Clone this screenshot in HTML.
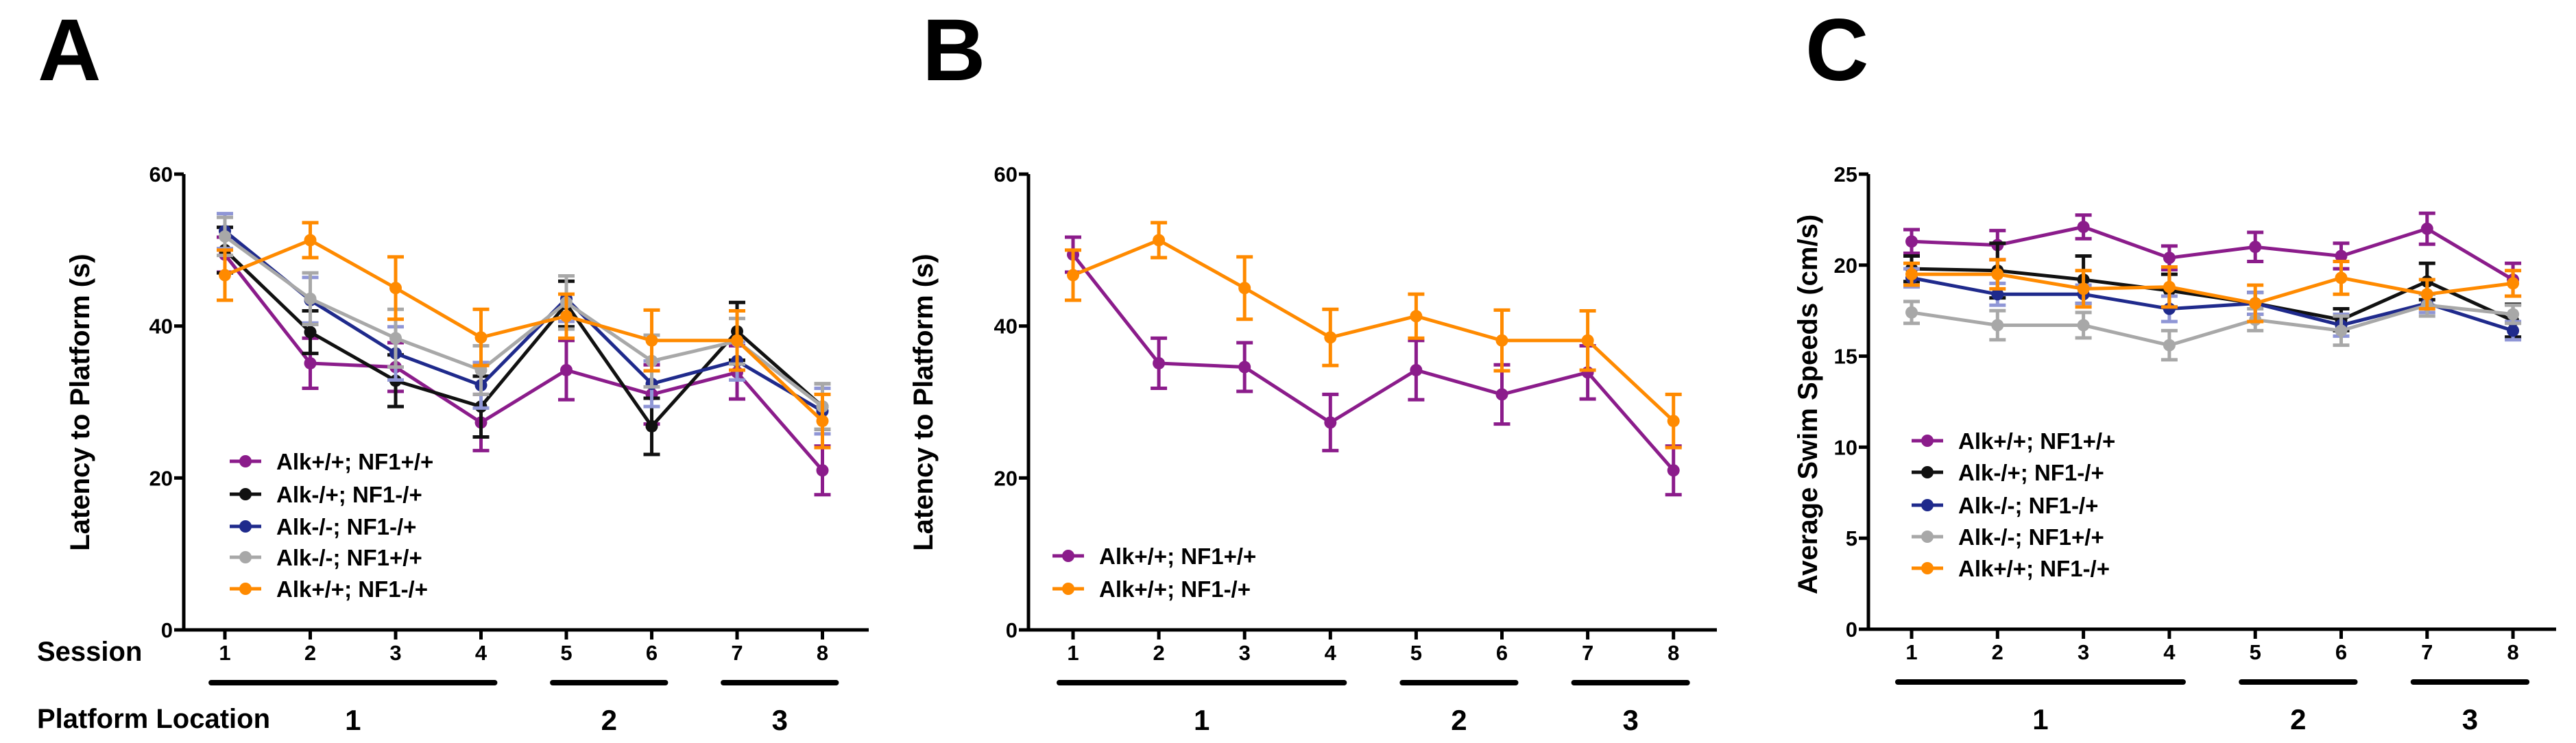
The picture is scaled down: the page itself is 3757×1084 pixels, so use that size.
<!DOCTYPE html>
<html><head><meta charset="utf-8"><style>
html,body{margin:0;padding:0;background:#fff;}
svg{display:block;font-family:"Liberation Sans",Arial,sans-serif;font-weight:bold;}
</style></head><body>
<svg id="fig" width="3757" height="1084" viewBox="0 0 3757 1084" xmlns="http://www.w3.org/2000/svg"></svg>
<script>
const sessions = [1,2,3,4,5,6,7,8];
const seriesNames = ["Alk+/+; NF1+/+","Alk-/+; NF1-/+","Alk-/-; NF1-/+","Alk-/-; NF1+/+","Alk+/+; NF1-/+"];
const latencyPurple = [49.4,35.1,34.6,27.3,34.2,31.0,33.9,21.0];
const latencyPurpleErr = [2.3,3.3,3.2,3.7,3.9,3.9,3.5,3.2];
const latencyBlack = [50.0,39.2,32.8,29.4,42.9,26.8,39.3,29.4];
const latencyBlackErr = [3.0,2.8,3.4,4.0,3.0,3.7,3.8,3.0];
const latencyBlue = [52.5,43.4,36.4,32.2,43.6,32.4,35.4,28.8];
const latencyBlueErr = [2.3,3.0,3.5,3.0,3.0,3.0,2.5,3.0];
const latencyGray = [51.8,43.6,38.4,34.2,43.1,35.4,38.0,29.4];
const latencyGrayErr = [2.5,3.4,3.8,3.2,3.5,3.4,3.0,3.0];
const latencyOrange = [46.7,51.3,45.0,38.5,41.3,38.1,38.1,27.5];
const latencyOrangeErr = [3.3,2.3,4.1,3.7,2.9,4.0,3.9,3.5];
const speedPurple = [21.3,21.1,22.1,20.4,21.0,20.5,22.0,19.2];
const speedPurpleErr = [0.65,0.8,0.65,0.65,0.8,0.7,0.85,0.9];
const speedBlack = [19.8,19.7,19.2,18.6,17.9,17.0,19.1,16.95];
const speedBlackErr = [0.7,1.5,1.3,0.9,0.6,0.6,1.0,0.9];
const speedBlue = [19.3,18.4,18.4,17.6,17.9,16.7,17.9,16.4];
const speedBlueErr = [0.5,0.6,0.5,0.7,0.6,0.6,0.5,0.5];
const speedGray = [17.4,16.7,16.7,15.6,17.0,16.4,17.8,17.3];
const speedGrayErr = [0.6,0.8,0.7,0.8,0.6,0.8,0.6,0.5];
const speedOrange = [19.5,19.5,18.7,18.8,17.9,19.3,18.4,19.0];
const speedOrangeErr = [0.6,0.8,1.0,1.1,1.0,0.9,0.8,0.7];
const latencyTicks = [0,20,40,60];
const speedTicks = [0,5,10,15,20,25];
const locationGroups = [[1,4,"1"],[5,6,"2"],[7,8,"3"]];

const NS="http://www.w3.org/2000/svg";
const svg=document.getElementById('fig');
const lineCol=["#8B1C8B","#111111","#1F2A8C","#A8A8A8","#FF8A00"];
const errCol=["#8B1C8B","#111111","#8F96D6","#A8A8A8","#FF8A00"];
function mk(tag,attrs,parent){const e=document.createElementNS(NS,tag);for(const k in attrs)e.setAttribute(k,attrs[k]);(parent||svg).appendChild(e);return e;}
function txt(s,attrs,parent){const e=mk('text',attrs,parent);e.textContent=s;return e;}

function panel(cfg){
  const g=mk('g',{});
  
  
  const xs=v=>cfg.x1+(v-1)*cfg.dx;
  const ys=v=>cfg.y0-(v/cfg.ymax)*(cfg.y0-cfg.ytop);
  // panel letter
  const L=txt(cfg.letter,{x:cfg.lx,y:117,'font-size':128,fill:'#000'},g);
  
  
  // axes
  const ax=mk('path',{d:`M${cfg.ax} ${cfg.ytop} V${cfg.y0} H${cfg.axEnd}`,stroke:'#000','stroke-width':5,fill:'none'},g);
  
  
  cfg.ticks.forEach(t=>{
    const y=ys(t);
    mk('line',{x1:cfg.ax-14,x2:cfg.ax,y1:y,y2:y,stroke:'#000','stroke-width':5},g);
    const tl=txt(String(t),{x:cfg.ax-16,y:y+11,'font-size':31,'text-anchor':'end',fill:'#000'},g);
    
    
  });
  sessions.forEach(s=>{
    const x=xs(s);
    mk('line',{x1:x,x2:x,y1:cfg.y0,y2:cfg.y0+14,stroke:'#000','stroke-width':5},g);
    const tl=txt(String(s),{x:x,y:cfg.y0+44,'font-size':31,'text-anchor':'middle',fill:'#000'},g);
    
    
  });
  locationGroups.forEach(gr=>{
    const a=xs(gr[0])-cfg.dx*0.16,b=xs(gr[1])+cfg.dx*0.16;
    const bar=mk('line',{x1:a,x2:b,y1:cfg.y0+77,y2:cfg.y0+77,stroke:'#000','stroke-width':8,'stroke-linecap':'round'},g);
    
    
    const lt=txt(gr[2],{x:(a+b)/2,y:cfg.y0+146,'font-size':42,'text-anchor':'middle',fill:'#000'},g);
    
    
  });
  const yt=txt(cfg.ytitle,{x:0,y:0,'font-size':40,'text-anchor':'middle',fill:'#000',transform:`translate(${cfg.ytx},${cfg.yty}) rotate(-90)`},g);
  
  
  // series
  cfg.series.forEach(s=>{
    const sg=mk('g',{},g);
    
    
    s.vals.forEach((v,i)=>{
      const x=xs(sessions[i]),yh=ys(v+s.err[i]),yl=ys(v-s.err[i]);
      mk('path',{d:`M${x} ${yh} V${yl} M${x-12} ${yh} H${x+12} M${x-12} ${yl} H${x+12}`,stroke:errCol[s.idx],'stroke-width':5,fill:'none'},sg);
    });
    const pts=s.vals.map((v,i)=>xs(sessions[i])+','+ys(v)).join(' ');
    const pl=mk('polyline',{points:pts,stroke:lineCol[s.idx],'stroke-width':5,fill:'none'},sg);
    
    
    s.vals.forEach((v,i)=>{
      const c=mk('circle',{cx:xs(sessions[i]),cy:ys(v),r:9,fill:lineCol[s.idx]},sg);
      
      
    });
  });
  // legend
  const lg=mk('g',{},g);
  
  
  cfg.legend.forEach((idx,k)=>{
    const y=cfg.legY[k];
    const e=mk('g',{},lg);
    
    
    mk('line',{x1:cfg.legX-23,x2:cfg.legX+23,y1:y,y2:y,stroke:lineCol[idx],'stroke-width':5},e);
    mk('circle',{cx:cfg.legX,cy:y,r:9,fill:lineCol[idx]},e);
    txt(seriesNames[idx],{x:cfg.legX+45,y:y+12,'font-size':33,fill:'#000'},e);
  });
}

panel({name:'panel-a',letter:'A',lx:55,ax:268,axEnd:1267,ytop:254,y0:919,ymax:60,x1:328,dx:124.5,ticks:latencyTicks,
  ytitle:'Latency to Platform (s)',ytx:130,yty:587,
  series:[{idx:0,vals:latencyPurple,err:latencyPurpleErr},{idx:1,vals:latencyBlack,err:latencyBlackErr},{idx:2,vals:latencyBlue,err:latencyBlueErr},{idx:3,vals:latencyGray,err:latencyGrayErr},{idx:4,vals:latencyOrange,err:latencyOrangeErr}],
  legend:[0,1,2,3,4],legX:358,legY:[673,721,768,813,859]});
panel({name:'panel-b',letter:'B',lx:1345,ax:1500,axEnd:2504,ytop:254,y0:919,ymax:60,x1:1565,dx:125.1,ticks:latencyTicks,
  ytitle:'Latency to Platform (s)',ytx:1360,yty:587,
  series:[{idx:0,vals:latencyPurple,err:latencyPurpleErr},{idx:4,vals:latencyOrange,err:latencyOrangeErr}],
  legend:[0,4],legX:1558,legY:[811,859]});
panel({name:'panel-c',letter:'C',lx:2633,ax:2725,axEnd:3728,ytop:254,y0:918,ymax:25,x1:2788,dx:125.3,ticks:speedTicks,
  ytitle:'Average Swim Speeds (cm/s)',ytx:2650,yty:590,
  series:[{idx:0,vals:speedPurple,err:speedPurpleErr},{idx:1,vals:speedBlack,err:speedBlackErr},{idx:2,vals:speedBlue,err:speedBlueErr},{idx:3,vals:speedGray,err:speedGrayErr},{idx:4,vals:speedOrange,err:speedOrangeErr}],
  legend:[0,1,2,3,4],legX:2811,legY:[643,689,737,783,829]});

const ses=txt('Session',{x:54,y:964,'font-size':40,fill:'#000'});


const pl=txt('Platform Location',{x:54,y:1062,'font-size':40,fill:'#000'});


</script>
</body></html>
